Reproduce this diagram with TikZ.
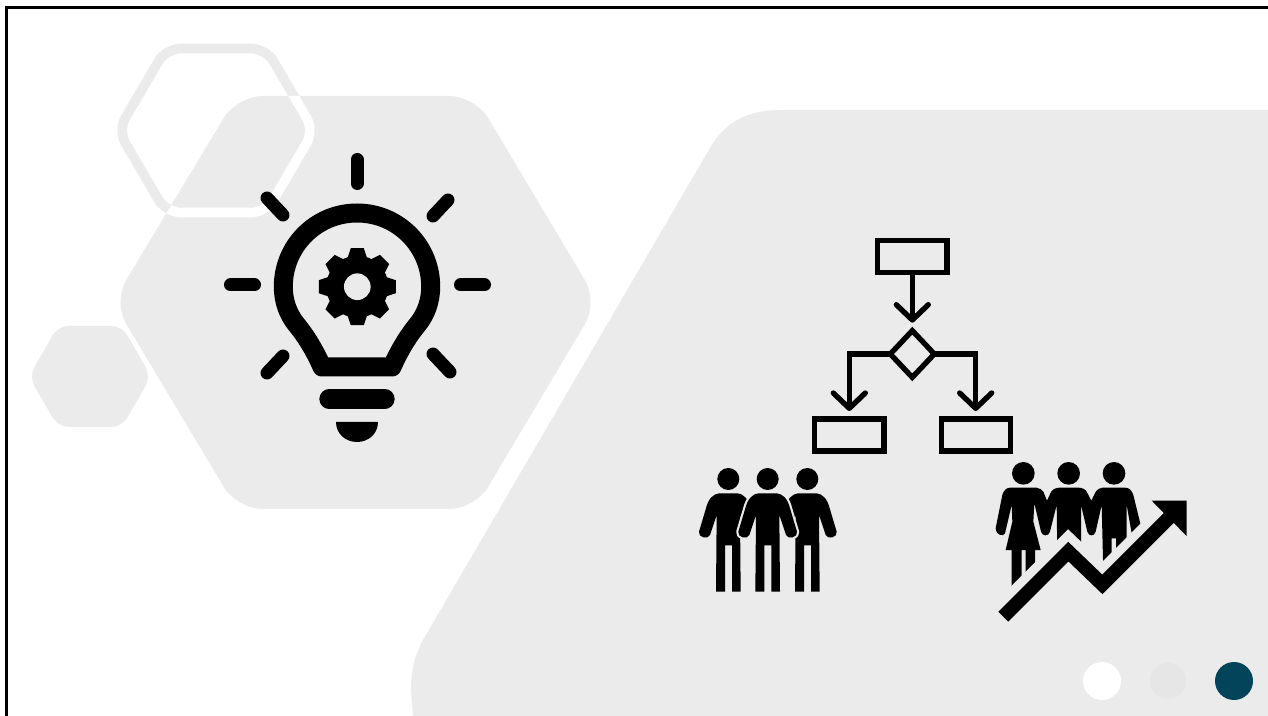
\documentclass[tikz,border=0pt]{standalone}
\usetikzlibrary{shapes.geometric,arrows.meta}
\definecolor{panel}{HTML}{EBEBEB}
\definecolor{dotgray}{HTML}{E6E6E6}
\definecolor{teal}{HTML}{04445A}
\tikzset{
  px/.style={x=.75pt,y=-.75pt},
  ray/.style={line width=9.75pt,line cap=round},
  flowbox/.style={draw=black,line width=4pt,rectangle,inner sep=0pt,outer sep=0pt,minimum width=51.8pt,minimum height=24pt},
  flowdia/.style={draw=black,line width=4pt,diamond,aspect=1,inner sep=0pt,outer sep=0pt,minimum width=33pt,minimum height=35pt},
  flowarrow/.style={draw=black,line width=4pt,-{Straight Barb[length=11.5pt,width=24pt,round]}},
}
\newcommand{\ringpath}{(118,130.5) -- (166,48.5) -- (266,48.5) -- (314,130.5) -- (266,212.5) -- (166,212.5) -- cycle}
\newcommand{\bighexpath}{(113,302) -- (237,96) -- (475,96) -- (598,302) -- (475,509) -- (237,509) -- cycle}
\newcommand{\manpath}{(-28,130) -- (28,130) .. controls (45,132) and (60,145) .. (68,178) -- (88,245) .. controls (92,262) and (61,270) .. (55,255) -- (35,195) -- (37,425) -- (11,425) -- (11,286) -- (-10,286) -- (-10,425) -- (-37,425) -- (-35,195) -- (-55,255) .. controls (-61,270) and (-92,262) .. (-88,245) -- (-68,178) .. controls (-60,145) and (-45,132) .. (-28,130) -- cycle}
\begin{document}
\begin{tikzpicture}[px]
\useasboundingbox (0,0) rectangle (1268,716);
\fill[white] (0,0) rectangle (1268,716);
% frame
\fill[black] (5,6) rectangle (7.5,716);
\fill[black] (5,6) rectangle (1268,9);
% background shapes
\draw[panel,line width=7.2pt,rounded corners=11pt] \ringpath;
\fill[panel,rounded corners=19pt] \bighexpath;
\begin{scope}
  \clip[rounded corners=19pt] \bighexpath;
  \draw[white,line width=7.2pt,rounded corners=11pt] \ringpath;
\end{scope}
\fill[panel,rounded corners=8pt] (29,376.5) -- (58,326) -- (122,326) -- (151,376.5) -- (122,427) -- (58,427) -- cycle;
\fill[panel] (1268,110) -- (780,110) .. controls (748,110) and (725,122) .. (710,148) -- (423,640) .. controls (415,655) and (411,670) .. (411,690) -- (413,716) -- (1268,716) -- cycle;
% dots
\fill[white] (1102,681) circle[radius=14.25pt];
\fill[dotgray] (1168,681) circle[radius=13.5pt];
\fill[teal] (1234,681) circle[radius=14.25pt];
% bulb
\draw[black,line width=14.25pt,line join=round]
  (322,367) .. controls (315,351) and (306,336) .. (296,324)
  .. controls (288,314) and (283.3,301) .. (283.3,286.7)
  .. controls (283.3,246) and (316,213) .. (357,213)
  .. controls (398,213) and (430.7,246) .. (430.7,286.7)
  .. controls (430.7,301) and (426,314) .. (418,324)
  .. controls (408,336) and (399,351) .. (392,367) -- cycle;
\draw[ray] (357,159.5) -- (357,183.5);
\draw[ray] (230.5,285) -- (254.5,285);
\draw[ray] (460.5,285) -- (484.5,285);
\draw[ray] (267,198) -- (283,215);
\draw[ray] (448,200) -- (433,216);
\draw[ray] (283,356) -- (267,373);
\draw[ray] (433,354) -- (450,372);
% gear
\fill[black] (357.3,286.7) circle[radius=23.25pt];
\foreach \a in {0,45,...,315}{
  \fill[black,shift={(357.3,286.7)},rotate=\a] (-10,-28) -- (-6.5,-38.5) -- (6.5,-38.5) -- (10,-28) -- cycle;
}
\fill[panel] (357.3,286.7) circle[radius=10pt];
% base
\draw[black,line width=14.5pt,line cap=round] (329,399) -- (385,399);
\fill[black] (336,422) -- (378,422) .. controls (378,433.6) and (368.6,442) .. (357,442) .. controls (345.4,442) and (336,433.6) .. (336,422) -- cycle;
% flowchart
\node[flowbox] (top) at (912.3,256.5) {};
\node[flowdia] (dia) at (912.3,354) {};
\node[flowbox] (lbox) at (849.3,435) {};
\node[flowbox] (rbox) at (975.7,435) {};
\draw[flowarrow,shorten >=6pt] (top.south) -- (dia.north);
\draw[flowarrow,shorten >=6pt] (dia.west) -| (lbox.north);
\draw[flowarrow,shorten >=6pt] (dia.east) -| (rbox.north);
% left people
\begin{scope}[shift={(690,450)},x=.25pt,y=-.25pt]
  \fill[black] (115,87) circle[radius=8.25pt];
  \fill[black] (233,87) circle[radius=8.25pt];
  \fill[black] (352,87) circle[radius=8.25pt];
  \begin{scope}[shift={(115,0)}] \fill[black] \manpath; \end{scope}
  \begin{scope}[shift={(352,0)}] \fill[black] \manpath; \end{scope}
  \begin{scope}[shift={(233,0)}]
    \draw[panel,line width=3.2pt,line join=round] \manpath;
    \fill[panel] (-62,255) -- (-35,190) -- (35,190) -- (62,255) -- (37,425) -- (-37,425) -- cycle;
    \fill[black] \manpath;
  \end{scope}
\end{scope}
% right people and rising arrow
\begin{scope}[shift={(985,450)},x=.25pt,y=-.25pt]
  \fill[black] (115,70) circle[radius=8.5pt];
  \fill[black] (251,70) circle[radius=8.5pt];
  \fill[black] (387,70) circle[radius=8.5pt];
  \fill[black] (32,235) -- (52,135) .. controls (55,122) and (65,113) .. (75,113) -- (155,113) .. controls (165,115) and (172,120) .. (175,125) -- (186,152) -- (198,126) .. controls (205,116) and (215,113) .. (222,113) -- (280,113) .. controls (292,113) and (302,118) .. (306,127) -- (319,152) -- (331,127) .. controls (337,118) and (345,113) .. (352,113) -- (420,113) .. controls (433,113) and (441,122) .. (445,135) -- (467,225) -- (440,250) -- (425,165) -- (425,340) -- (393,340) -- (393,265) -- (380,265) -- (380,370) -- (355,370) -- (350,165) -- (332,245) .. controls (328,260) and (311,260) .. (307,245) -- (288,165) -- (288,320) -- (217,320) -- (215,165) -- (195,245) .. controls (191,260) and (172,260) .. (168,245) -- (148,160) -- (145,215) -- (167,300) -- (150,300) -- (150,430) -- (122,430) -- (122,300) -- (110,300) -- (110,430) -- (80,430) -- (80,300) -- (62,300) -- (82,215) -- (80,165) -- (60,250) .. controls (56,260) and (34,258) .. (32,235) -- cycle;
  \coordinate (tail) at (55,500);
  \coordinate (peak) at (250,305);
  \coordinate (valley) at (352,403);
  \coordinate (shaft) at (570,185);
  \draw[panel,line width=24pt,miter limit=10] (tail) -- (peak) -- (valley) -- (shaft);
  \draw[black,line width=10.5pt,miter limit=10] (tail) -- (peak) -- (valley) -- (shaft);
  \fill[black] (500,152) -- (605,152) -- (605,258) -- cycle;
\end{scope}
\end{tikzpicture}
\end{document}
